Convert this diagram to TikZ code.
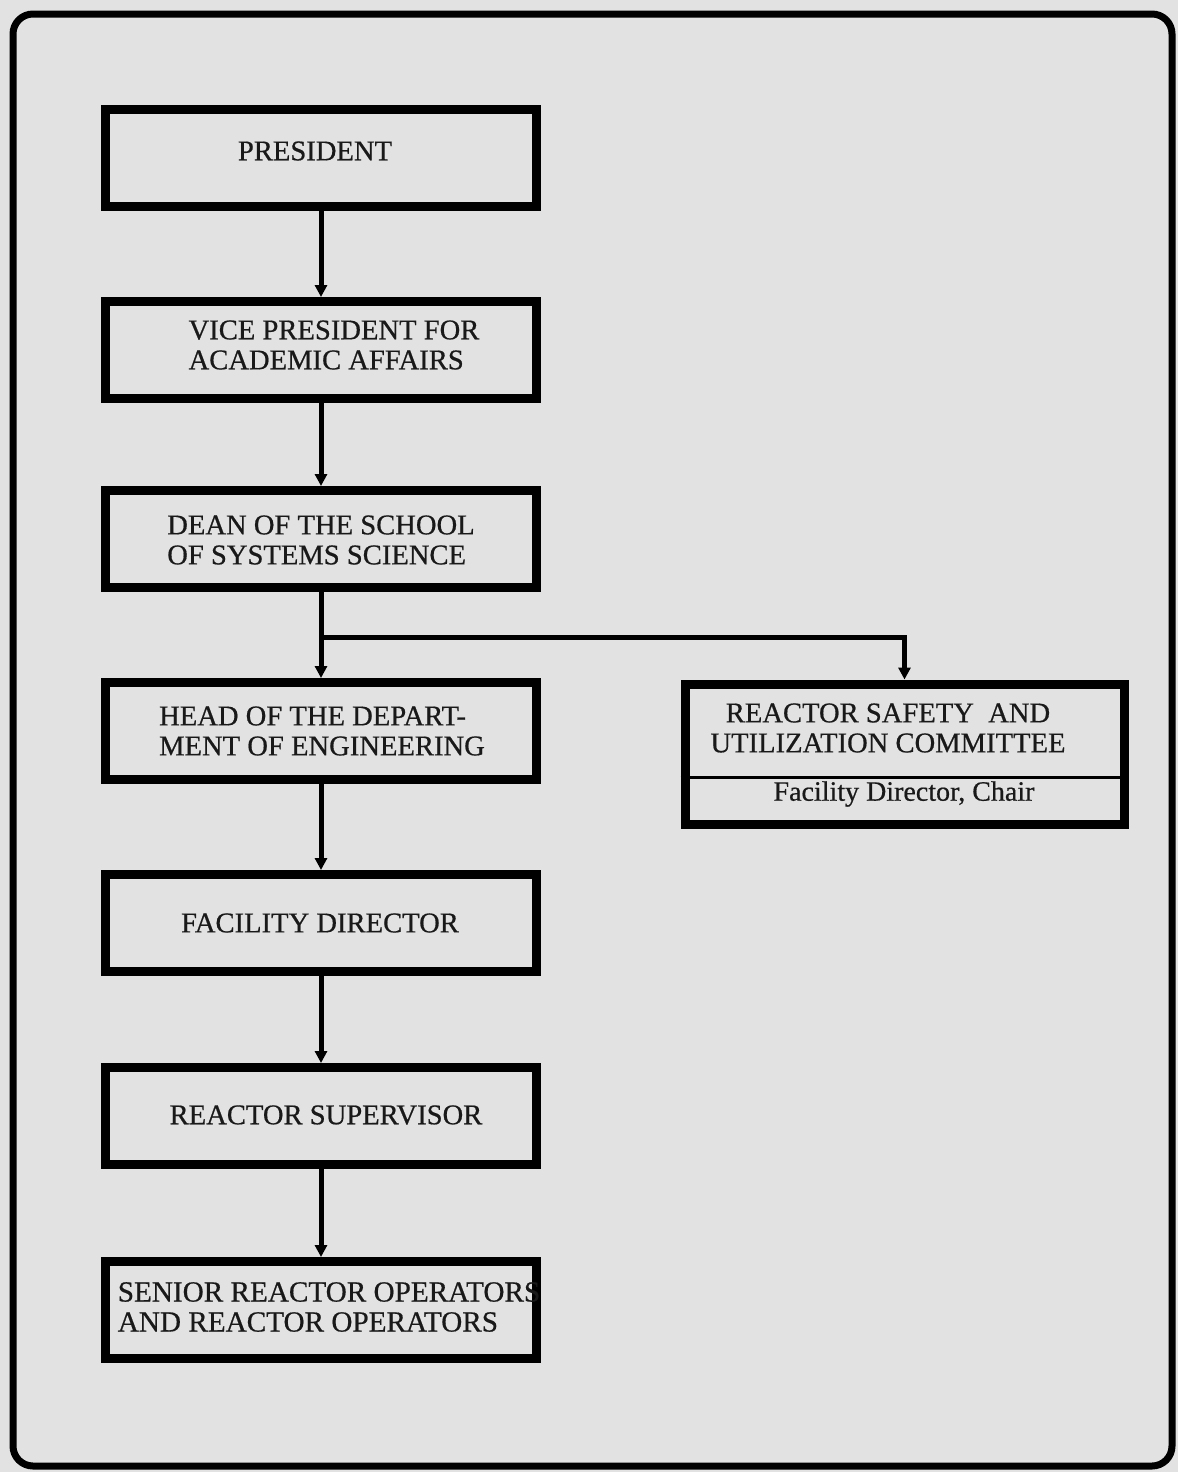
\documentclass[tikz,border=0pt]{standalone}
\usepackage{fontspec}
\setmainfont{Liberation Serif}[FakeBold=0.6]
\newfontfamily\heavy{Liberation Serif}[FakeBold=0.6]
\usetikzlibrary{arrows.meta}
\definecolor{paper}{RGB}{226,226,226}
\tikzset{
  orgbox/.style={draw=black, line width=4.5pt, fill=paper, inner sep=0pt,
    minimum width=215.5pt, minimum height=48.5pt},
  boxtext/.style={inner sep=0pt, align=left, text=black!90,
    font=\heavy\fontsize{14.3}{15}\selectfont},
  link/.style={draw=black, line width=2.5pt, -{Triangle[length=6pt,width=6pt]}}
}
\begin{document}
\begin{tikzpicture}[x=0.5pt,y=-0.5pt]
\useasboundingbox (0,0) rectangle (1178,1472);
\fill[paper] (0,0) rectangle (1178,1472);
\draw[line width=3.5pt, rounded corners=10pt] (13,14) rectangle (1172,1466);

\node[orgbox] (pres) at (321,158) {};
\node[orgbox] (vp) at (321,350) {};
\node[orgbox] (dean) at (321,539) {};
\node[orgbox] (head) at (321,731) {};
\node[orgbox] (fac) at (321,923) {};
\node[orgbox] (sup) at (321,1116) {};
\node[orgbox] (sen) at (321,1310) {};
\node[orgbox, minimum width=219.5pt, minimum height=70pt] (com) at (904.5,754) {};

\node[boxtext] (presT) at (315,151) {PRESIDENT};
\node[boxtext] (vpT) at (334,345) {VICE PRESIDENT FOR\\ACADEMIC AFFAIRS};
\node[boxtext] (deanT) at (321,540) {DEAN OF THE SCHOOL\\OF SYSTEMS SCIENCE};
\node[boxtext] (headT) at (322,731) {HEAD OF THE DEPART-\\MENT OF ENGINEERING};
\node[boxtext] (facT) at (320,923) {FACILITY DIRECTOR};
\node[boxtext] (supT) at (326,1115) {REACTOR SUPERVISOR};
\node[boxtext, font=\heavy\fontsize{14.6}{15}\selectfont] (senT) at (329,1307) {SENIOR REACTOR OPERATORS\\AND REACTOR OPERATORS};

\draw[line width=1.5pt] (com.west |- 0,777) coordinate (dl) -- (com.east |- 0,777) coordinate (dr);
\node[boxtext, align=center] (comT) at (888,728) {REACTOR SAFETY\ \ AND\\UTILIZATION COMMITTEE};
\node[boxtext, font=\heavy\fontsize{14}{15}\selectfont] (comC) at (904,794) {Facility Director, Chair};

\draw[link] (pres.south) -- (vp.north);
\draw[link] (vp.south) -- (dean.north);
\draw[link] (dean.south) -- (head.north);
\coordinate (br) at (322,637);
\draw[link] (br) -| (com.north);
\draw[link] (head.south) -- (fac.north);
\draw[link] (fac.south) -- (sup.north);
\draw[link] (sup.south) -- (sen.north);
\end{tikzpicture}
\end{document}
